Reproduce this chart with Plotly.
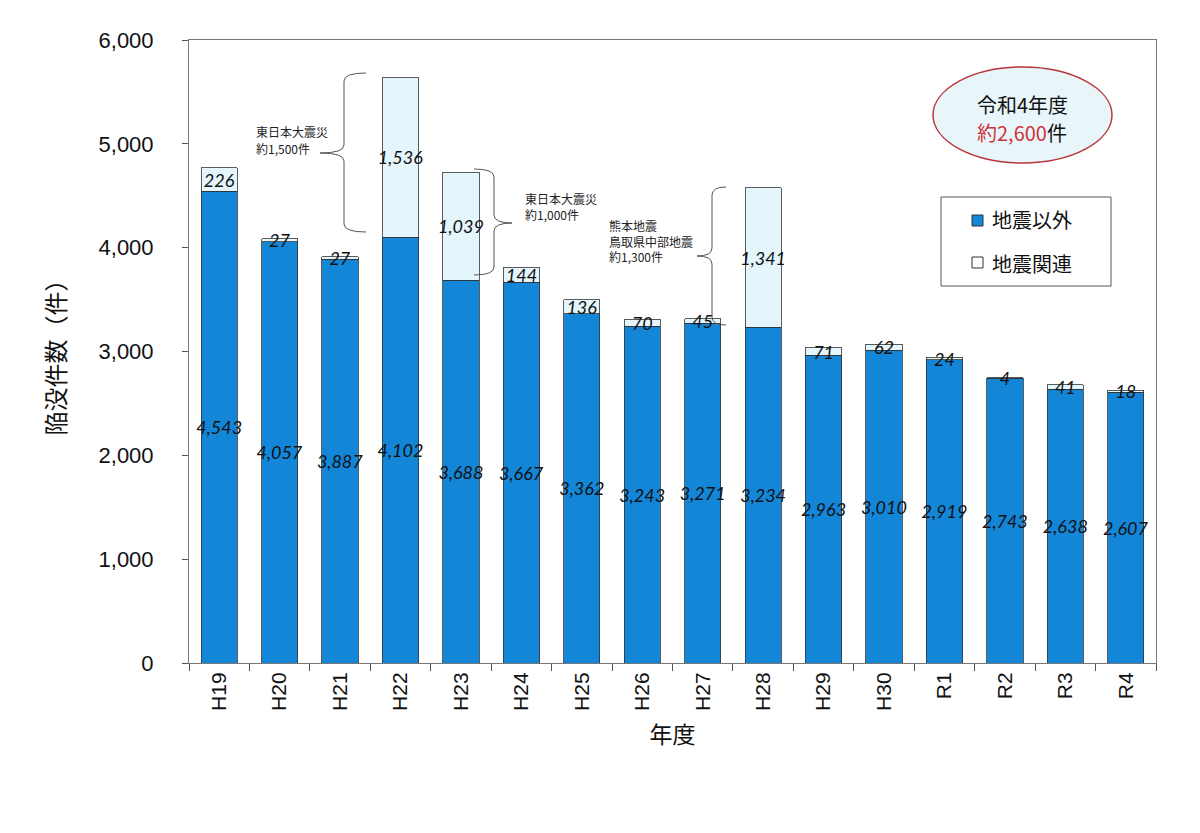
import plotly.graph_objects as go

# 年度
years = ["H19", "H20", "H21", "H22", "H23", "H24", "H25", "H26",
         "H27", "H28", "H29", "H30", "R1", "R2", "R3", "R4"]
# 地震以外
non_quake = [4543, 4057, 3887, 4102, 3688, 3667, 3362, 3243,
             3271, 3234, 2963, 3010, 2919, 2743, 2638, 2607]
# 地震関連
quake = [226, 27, 27, 1536, 1039, 144, 136, 70,
         45, 1341, 71, 62, 24, 4, 41, 18]

y_ticks = [0, 1000, 2000, 3000, 4000, 5000, 6000]

BLUE = "#1386d8"
LIGHT = "#e4f5fb"
EDGE = "#333333"

# plot area in pixels (1200x833 page); the page body adds an 8px offset
PX0, PX1, PY0, PY1 = 189, 1156, 40, 663
OFF = 8


def px(x):
    return (x - PX0) / (PX1 - PX0)


def py(y):
    return (PY1 - y) / (PY1 - PY0)


def brace(top, tip, bottom, vx):
    # curly brace through pixel points, returned as paper path
    (x0, y0), (tx, ty), (x1, y1) = top, tip, bottom
    pts = [
        "M{},{}".format(px(x0), py(y0)),
        "Q{},{} {},{}".format(px(vx), py(y0), px(vx), py(y0 + 8)),
        "L{},{}".format(px(vx), py(ty - 8)),
        "Q{},{} {},{}".format(px(vx), py(ty), px(tx), py(ty)),
        "Q{},{} {},{}".format(px(vx), py(ty), px(vx), py(ty + 8)),
        "L{},{}".format(px(vx), py(y1 - 8)),
        "Q{},{} {},{}".format(px(vx), py(y1), px(x1), py(y1)),
    ]
    return dict(type="path", xref="paper", yref="paper", path=" ".join(pts),
                line=dict(color="#555555", width=1))


label_font = dict(family="Lato, Liberation Sans", size=18, color="#111111",
                  style="italic")

fig = go.Figure()
fig.add_trace(go.Bar(
    x=years, y=non_quake, name="地震以外",
    marker=dict(color=BLUE, line=dict(color=EDGE, width=0.8)),
    text=[f"{v:,}" for v in non_quake],
    textposition="inside", insidetextanchor="middle",
    constraintext="none", textangle=0, textfont=label_font,
))
fig.add_trace(go.Bar(
    x=years, y=quake, name="地震関連",
    marker=dict(color=LIGHT, line=dict(color=EDGE, width=0.8)),
    text=[f"{v:,}" for v in quake],
    textposition="inside", insidetextanchor="middle",
    constraintext="none", textangle=0, textfont=label_font,
))

shapes = [
    brace((366, 73), (320, 153), (366, 232), 344),
    brace((474, 169), (512, 223), (474, 275), 494),
    brace((726, 187), (697, 256), (726, 325), 712),
    dict(type="circle", xref="paper", yref="paper",
         x0=px(933), x1=px(1112), y0=py(163), y1=py(67),
         fillcolor="#e8f5f9", line=dict(color="#b8353a", width=1.5)),
    dict(type="rect", xref="paper", yref="paper",
         x0=px(941), x1=px(1111), y0=py(286), y1=py(197),
         fillcolor="white", line=dict(color="#555555", width=1)),
    dict(type="rect", xref="paper", yref="paper",
         x0=px(972), x1=px(983), y0=py(226), y1=py(215),
         fillcolor=BLUE, line=dict(color=EDGE, width=1)),
    dict(type="rect", xref="paper", yref="paper",
         x0=px(972), x1=px(983), y0=py(268), y1=py(257),
         fillcolor="white", line=dict(color=EDGE, width=1)),
]

note_font = dict(family="Noto Sans CJK JP", size=12, color="#222222")
big_font = dict(family="Noto Sans CJK JP", size=20, color="#111111")


def note(x, y, text, font, anchor="left"):
    return dict(xref="paper", yref="paper", x=px(x), y=py(y), text=text,
                showarrow=False, xanchor=anchor, yanchor="middle",
                align="left", font=font)


annotations = [
    note(254, 131, "東日本大震災", note_font),
    note(254, 148, "約1,500件", note_font),
    note(523, 198, "東日本大震災", note_font),
    note(523, 214, "約1,000件", note_font),
    note(607, 225, "熊本地震", note_font),
    note(607, 241, "鳥取県中部地震", note_font),
    note(607, 257, "約1,300件", note_font),
    note(1022, 104, "令和4年度", big_font, "center"),
    note(1022, 132, "<span style='color:#d0333a'>約2,600</span>件",
         big_font, "center"),
    note(990, 220, "地震以外", big_font),
    note(990, 263, "地震関連", big_font),
]

fig.update_layout(
    barmode="stack", bargap=0.4,
    width=1200, height=833,
    margin=dict(l=PX0 - OFF, r=1200 - PX1 + OFF, t=PY0 - OFF,
                b=833 - PY1 + OFF, autoexpand=False),
    paper_bgcolor="white", plot_bgcolor="white",
    showlegend=False,
    shapes=shapes, annotations=annotations,
    font=dict(family="Liberation Sans, Arial", color="#111111"),
)
fig.update_xaxes(
    tickangle=-90, tickfont=dict(size=21), ticks="outside", ticklen=7,
    tickson="boundaries", tickcolor="#555555",
    showline=True, linecolor="#777777", mirror=True,
    title=dict(text="年度", font=dict(family="Noto Sans CJK JP", size=23),
               standoff=16),
)
fig.update_yaxes(
    range=[0, 6000], tickvals=y_ticks, tickformat=",d",
    tickfont=dict(size=22), ticks="outside", ticklen=6,
    tickcolor="#555555", ticklabelstandoff=24,
    showline=True, linecolor="#777777", mirror=True, showgrid=False,
    zeroline=False,
    title=dict(text="陥没件数（件）",
               font=dict(family="Noto Sans CJK JP", size=24), standoff=26),
)

fig.write_html("out.html")
